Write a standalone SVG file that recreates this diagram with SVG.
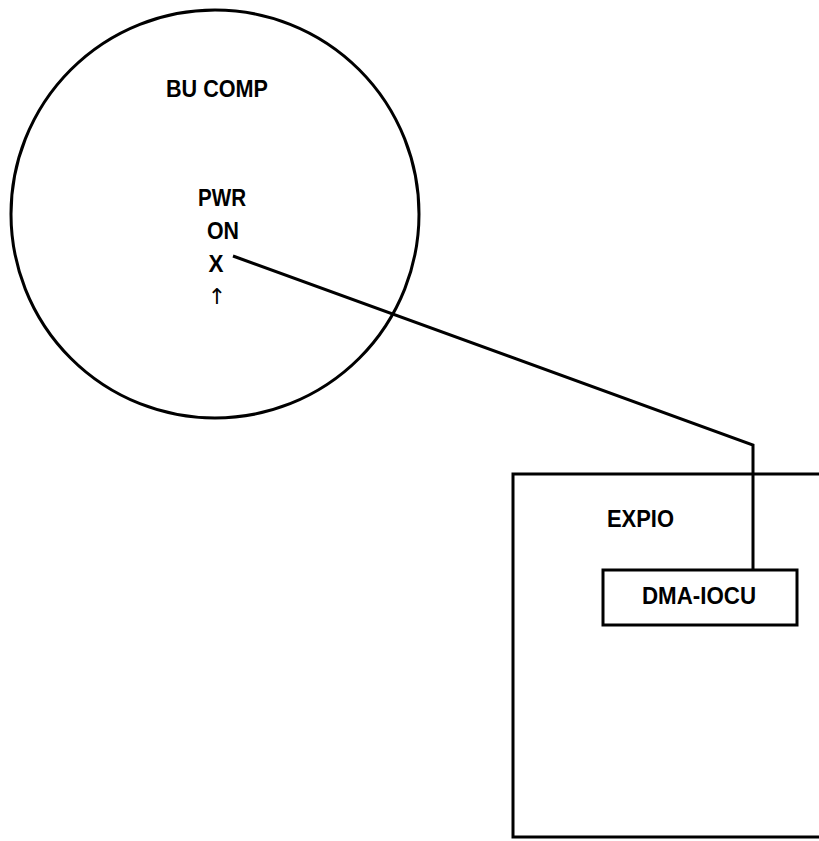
<svg xmlns="http://www.w3.org/2000/svg" width="819" height="841" viewBox="0 0 819 841">
<style>
.s{fill:none;stroke:#000;stroke-width:3}
.t{font-family:"Liberation Sans",Arial,sans-serif;font-weight:bold;font-size:24px;fill:#000}
.a{font-family:"DejaVu Sans",sans-serif;font-size:22px;fill:#000}
</style>
<rect width="819" height="841" fill="#fff"/>
<g id="bu-comp">
<circle class="s" cx="215" cy="214" r="204"/>
<text class="t" x="217" y="97" text-anchor="middle" textLength="102" lengthAdjust="spacingAndGlyphs">BU COMP</text>
<text class="t" x="222" y="206" text-anchor="middle" textLength="48" lengthAdjust="spacingAndGlyphs">PWR</text>
<text class="t" x="223" y="239" text-anchor="middle" textLength="32" lengthAdjust="spacingAndGlyphs">ON</text>
<text class="t" x="216" y="272" text-anchor="middle" textLength="15" lengthAdjust="spacingAndGlyphs">X</text>
<text class="a" x="217" y="304" text-anchor="middle">↑</text>
</g>
<g id="expio">
<rect class="s" x="513" y="474" width="320" height="363"/>
<text class="t" x="607" y="527" textLength="67" lengthAdjust="spacingAndGlyphs">EXPIO</text>
</g>
<g id="dma-iocu">
<rect class="s" x="603" y="570" width="194" height="55"/>
<text class="t" x="699" y="604" text-anchor="middle" textLength="114" lengthAdjust="spacingAndGlyphs">DMA-IOCU</text>
</g>
<g id="connectors">
<polyline class="s" points="233,256 753,445 753,570"/>
</g>
</svg>
